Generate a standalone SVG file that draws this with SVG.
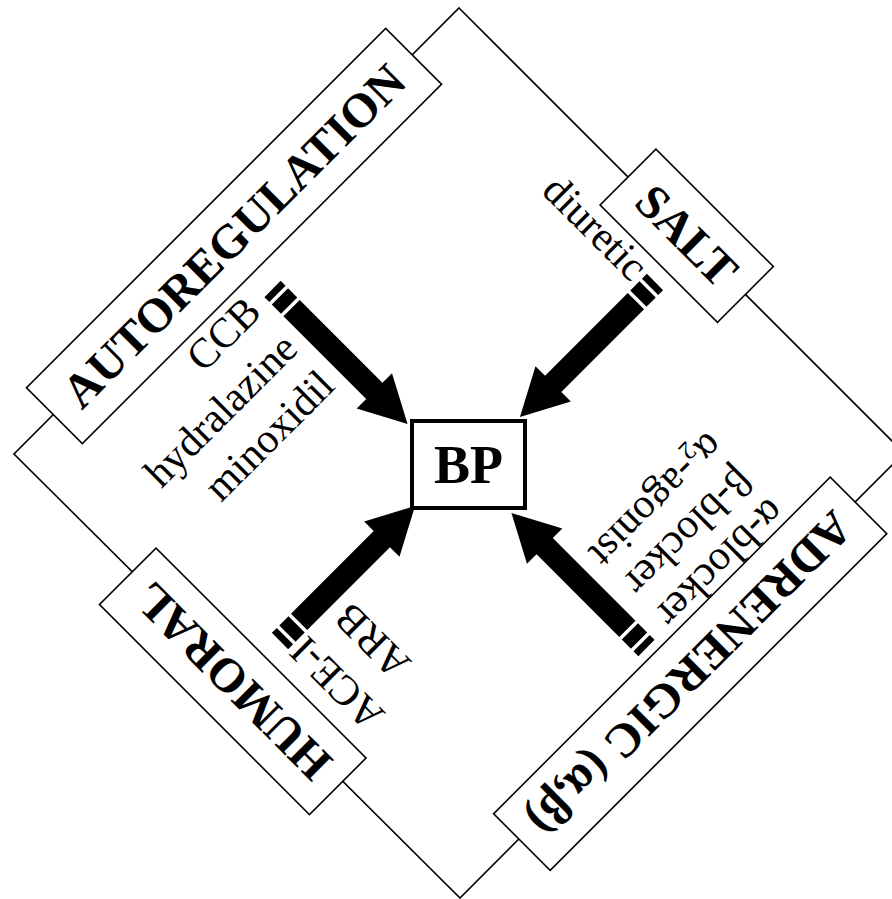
<svg xmlns="http://www.w3.org/2000/svg" xmlns:xlink="http://www.w3.org/1999/xlink" width="892" height="899" viewBox="0 0 892 899">
  <style>
    .frame { fill: none; stroke: #000; stroke-width: 1.6; }
    .box { fill: #fff; stroke: #000; stroke-width: 1.6; }
    .label { font-family: "Liberation Serif", "Times New Roman", serif; font-weight: bold; font-size: 48px; fill: #000; text-anchor: middle; }
    .drug { font-family: "Liberation Serif", "Times New Roman", serif; font-size: 42px; fill: #000; text-anchor: end; }
    .bp-box { fill: #fff; stroke: #000; stroke-width: 4; }
    .bp { font-family: "Liberation Serif", "Times New Roman", serif; font-weight: bold; font-size: 54px; fill: #000; text-anchor: middle; }
  </style>
  <defs>
    <!-- block arrow: tail at origin, pointing along +x, striped tail -->
    <g id="arrow" fill="#000">
      <rect x="0" y="-11.5" width="7" height="23"/>
      <rect x="10.5" y="-11.5" width="13" height="23"/>
      <polygon points="27,-11.5 144,-11.5 144,-25 191,0 144,25 144,11.5 27,11.5"/>
    </g>
  </defs>

  <!-- outer diamond frame -->
  <polygon class="frame" points="459,8 904,453 460,898 14,454"/>

  <g id="connectors">
    <use xlink:href="#arrow" transform="translate(272.5,289) rotate(45)"/>
    <use xlink:href="#arrow" transform="translate(655,282) rotate(135)"/>
    <use xlink:href="#arrow" transform="translate(280,641) rotate(-45)"/>
    <use xlink:href="#arrow" transform="translate(646.5,648) rotate(-135)"/>
  </g>

  <g id="autoregulation" transform="translate(234,236) rotate(-45)">
    <rect class="box" x="-254" y="-39.5" width="508" height="79"/>
    <text class="label" x="0" y="16">AUTOREGULATION</text>
  </g>

  <g id="salt" transform="translate(686.7,235.8) rotate(45)">
    <rect class="box" x="-83" y="-39.5" width="166" height="79"/>
    <text class="label" x="0" y="16">SALT</text>
  </g>

  <g id="humoral" transform="translate(232.75,681.3) rotate(-135)">
    <rect class="box" x="-148.5" y="-40" width="297" height="80"/>
    <text class="label" x="0" y="16">HUMORAL</text>
  </g>

  <g id="adrenergic" transform="translate(690.2,673.7) rotate(135)">
    <rect class="box" x="-238" y="-40" width="476" height="80"/>
    <text class="label" x="0" y="16">ADRENERGIC (α,β)</text>
  </g>

  <g id="bp">
    <rect class="bp-box" x="412" y="421" width="113" height="87"/>
    <text class="bp" x="468.5" y="483">BP</text>
  </g>

  <!-- drug classes acting on each pathway -->
  <g id="drugs-autoregulation" transform="translate(263,314) rotate(-45)">
    <text class="drug" x="0" y="0">CCB</text>
    <text class="drug" x="0" y="52">hydralazine</text>
    <text class="drug" x="0" y="104">minoxidil</text>
  </g>

  <g id="drugs-salt" transform="translate(631,283) rotate(45)">
    <text class="drug" x="0" y="0">diuretic</text>
  </g>

  <g id="drugs-humoral" transform="translate(307,634) rotate(-135)">
    <text class="drug" x="0" y="0">ACE-I</text>
    <text class="drug" x="-8" y="55">ARB</text>
  </g>

  <g id="drugs-adrenergic" transform="translate(654,611) rotate(135)">
    <text class="drug" x="0" y="0">α-blocker</text>
    <text class="drug" x="0" y="45">β-blocker</text>
    <text class="drug" x="5" y="90">α<tspan font-size="26" dy="8">2</tspan><tspan dy="-8">-agonist</tspan></text>
  </g>
</svg>
